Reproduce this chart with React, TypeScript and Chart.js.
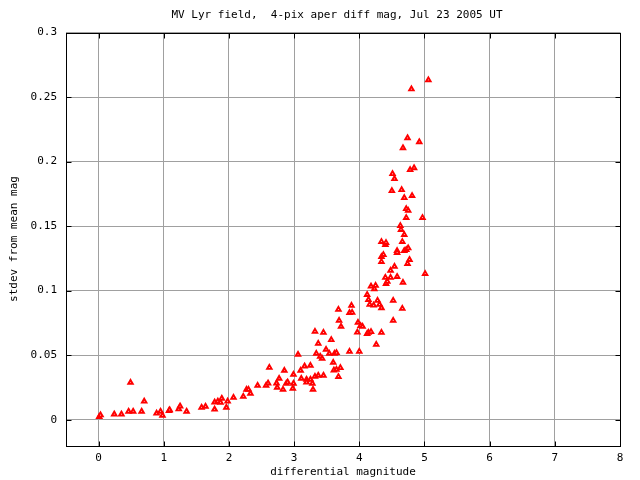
import { useEffect, useRef } from 'react';
import { Chart, registerables } from 'chart.js';

Chart.register(...registerables);

const TITLE = 'MV Lyr field,  4-pix aper diff mag, Jul 23 2005 UT';
const X_LABEL = 'differential magnitude';
const Y_LABEL = 'stdev from mean mag';
const X_TICKS = [0, 1, 2, 3, 4, 5, 6, 7, 8];
const Y_TICKS = [0, 0.05, 0.1, 0.15, 0.2, 0.25, 0.3];

const MAG = [
  0.01, 0.03, 0.24, 0.35, 0.46, 0.49, 0.53, 0.66, 0.7, 0.89, 0.95, 0.98,
  1.08, 1.09, 1.23, 1.25, 1.35, 1.58, 1.64, 1.78, 1.78, 1.83, 1.87, 1.89, 1.96, 1.98,
  2.07, 2.22, 2.27, 2.3, 2.33, 2.44, 2.57, 2.6, 2.62, 2.73, 2.74, 2.77, 2.83, 2.85, 2.88, 2.9, 2.98, 2.99, 2.99,
  3.06, 3.1, 3.11, 3.16, 3.19, 3.19, 3.25, 3.25, 3.28, 3.29, 3.32, 3.32, 3.34, 3.37, 3.37, 3.4, 3.43, 3.45, 3.45,
  3.49, 3.54, 3.57, 3.6, 3.61, 3.62, 3.65, 3.65, 3.68, 3.68, 3.69, 3.71, 3.72, 3.85, 3.85, 3.88, 3.89, 3.97, 3.98,
  4.0, 4.02, 4.05, 4.12, 4.12, 4.14, 4.14, 4.16, 4.18, 4.18, 4.22, 4.23, 4.25, 4.26, 4.28, 4.31, 4.34, 4.34, 4.34,
  4.34, 4.34, 4.37, 4.4, 4.4, 4.41, 4.41, 4.43, 4.48, 4.48, 4.5, 4.51, 4.52, 4.52, 4.54, 4.54, 4.58, 4.58, 4.58,
  4.63, 4.64, 4.65, 4.66, 4.66, 4.67, 4.67, 4.69, 4.69, 4.69, 4.72, 4.72, 4.72, 4.74, 4.74, 4.75, 4.75, 4.77,
  4.78, 4.8, 4.81, 4.84, 4.92, 4.97, 5.01, 5.06,
];

const STDEV = [
  0.0023, 0.0036, 0.0043, 0.0043, 0.0064, 0.0288, 0.0064, 0.0064, 0.0142, 0.0049, 0.0064, 0.0033,
  0.007, 0.0076, 0.0082, 0.0105, 0.0064, 0.0095, 0.0103, 0.008, 0.0136, 0.0142, 0.0134, 0.0165, 0.0095, 0.0142,
  0.0172, 0.018, 0.0234, 0.0234, 0.0203, 0.0265, 0.0265, 0.0283, 0.0404, 0.0283, 0.025, 0.0319, 0.0234, 0.0381, 0.0281, 0.0291, 0.0242, 0.0281, 0.035,
  0.0505, 0.0381, 0.0319, 0.0415, 0.0312, 0.0291, 0.042, 0.0312, 0.0281, 0.0234, 0.0335, 0.0683, 0.0513, 0.0343, 0.059, 0.049, 0.0474, 0.0343, 0.0675,
  0.0544, 0.0513, 0.0619, 0.0443, 0.0384, 0.0513, 0.0518, 0.0389, 0.0333, 0.0853, 0.0768, 0.0402, 0.0722, 0.0828, 0.0528, 0.0884, 0.083, 0.0677, 0.0753,
  0.0528, 0.0727, 0.0722, 0.0665, 0.0969, 0.0675, 0.093, 0.0892, 0.0681, 0.1033, 0.0886, 0.1013, 0.1039, 0.0582, 0.0923, 0.0892, 0.0866, 0.0675, 0.1379,
  0.1263, 0.1224, 0.1278, 0.1356, 0.1101, 0.1371, 0.1054, 0.107, 0.1155, 0.1101, 0.1773, 0.1905, 0.0768, 0.0923, 0.1186, 0.1866, 0.1309, 0.1294, 0.1108,
  0.1503, 0.1472, 0.1781, 0.1379, 0.0861, 0.1062, 0.2106, 0.1433, 0.1309, 0.1719, 0.1565, 0.1317, 0.1634, 0.1209, 0.2183, 0.162, 0.133, 0.124,
  0.1936, 0.2562, 0.1735, 0.1951, 0.2152, 0.1565, 0.1131, 0.2632,
];

const FONT_FAMILY = '"DejaVu Sans Mono", monospace';
const FONT = { family: FONT_FAMILY, size: 11, lineHeight: 1.2 };
const GRID = '#a0a0a0';
const TICK_LEN = 5;

const framePlugin = {
  id: 'gnuplotFrame',
  afterDraw(chart: any) {
    const { ctx, chartArea: a, scales } = chart;
    const al = (v: number) => Math.round(v) + 0.5;
    const L = al(a.left), R = al(a.right), T = al(a.top), B = al(a.bottom);
    ctx.save();
    ctx.strokeStyle = '#000';
    ctx.lineWidth = 1;
    ctx.beginPath();
    for (const t of scales.x.ticks) {
      const px = al(scales.x.getPixelForValue(t.value));
      ctx.moveTo(px, B); ctx.lineTo(px, B - TICK_LEN);
      ctx.moveTo(px, T); ctx.lineTo(px, T + TICK_LEN);
    }
    for (const t of scales.y.ticks) {
      const py = al(scales.y.getPixelForValue(t.value));
      ctx.moveTo(L, py); ctx.lineTo(L + TICK_LEN, py);
      ctx.moveTo(R, py); ctx.lineTo(R - TICK_LEN, py);
    }
    ctx.stroke();
    ctx.strokeRect(L, T, R - L, B - T);
    ctx.fillStyle = '#000';
    ctx.font = `11px ${FONT_FAMILY}`;
    ctx.textAlign = 'center';
    ctx.textBaseline = 'middle';
    ctx.fillText(TITLE, (a.left + a.right) / 2 - 6, 15);
    ctx.restore();
  },
};

export default function App() {
  const ref = useRef<HTMLCanvasElement | null>(null);
  useEffect(() => {
    document.body.style.margin = '0';
    const canvas = ref.current!;
    const chart = new Chart(canvas, {
      type: 'scatter',
      data: {
        datasets: [
          {
            data: MAG.map((x, i) => ({ x, y: STDEV[i] })),
            pointStyle: 'triangle',
            radius: 2.6,
            backgroundColor: '#ffffff',
            borderColor: '#ff0000',
            borderWidth: 1.9,
          },
        ],
      },
      options: {
        responsive: false,
        animation: false,
        devicePixelRatio: 1,
        layout: { padding: { top: 32.5, right: 20, left: 0, bottom: 0 } },
        plugins: { legend: { display: false }, tooltip: { enabled: false }, title: { display: false } },
        scales: {
          x: {
            type: 'linear',
            min: -0.5,
            max: 8,
            afterBuildTicks: (s: any) => { s.ticks = X_TICKS.map((v) => ({ value: v })); },
            afterFit: (s: any) => { s.height = 34.5; },
            ticks: { font: FONT, color: '#000', padding: 6, maxRotation: 0, autoSkip: false, callback: (v: any) => String(v) },
            grid: { color: GRID, lineWidth: 1, drawTicks: false },
            border: { display: false },
            title: { display: true, text: X_LABEL, font: FONT, color: '#000', padding: { top: 0, bottom: 1 } },
          },
          y: {
            type: 'linear',
            min: -0.02,
            max: 0.3,
            afterBuildTicks: (s: any) => { s.ticks = Y_TICKS.map((v) => ({ value: v })); },
            afterFit: (s: any) => { s.width = 66; },
            ticks: { font: FONT, color: '#000', padding: 9, autoSkip: false, callback: (v: any) => String(v) },
            grid: { color: GRID, lineWidth: 1, drawTicks: false },
            border: { display: false },
            title: { display: true, text: Y_LABEL, font: FONT, color: '#000', padding: { top: 7.5, bottom: 0 } },
          },
        },
      },
      plugins: [framePlugin],
    });
    return () => chart.destroy();
  }, []);
  return (
    <div style={{ width: 640, height: 480 }}>
      <canvas ref={ref} width={640} height={480} style={{ width: 640, height: 480, display: 'block' }} />
    </div>
  );
}
